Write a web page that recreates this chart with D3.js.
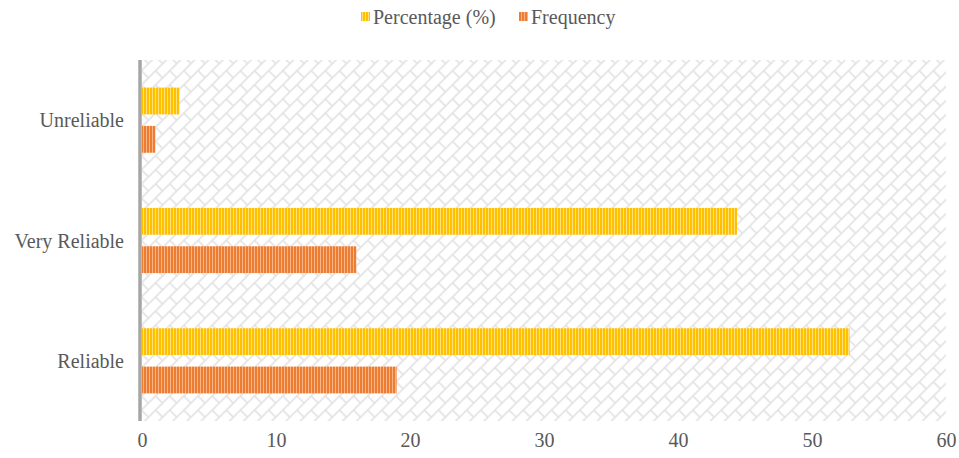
<!DOCTYPE html>
<html><head><meta charset="utf-8">
<script src="https://cdn.jsdelivr.net/npm/d3@7"></script>
<style>body{margin:0;background:#fff}svg{display:block}</style>
</head><body>
<script>
const categories = ["Unreliable", "Very Reliable", "Reliable"];
const seriesNames = ["Percentage (%)", "Frequency"];
const percentage = [2.8, 44.4, 52.8];
const frequency = [1, 16, 19];
const xTicks = [0, 10, 20, 30, 40, 50, 60];
const colors = ["#FFC000", "#ED7D31"];
const lightColors = ["#FFE07A", "#F7B48A"];

const W = 959, H = 458;
const m = {left: 142, right: 13, top: 60, bottom: 37};
const svg = d3.select("body").append("svg").attr("width", W).attr("height", H);
const defs = svg.append("defs");

// background diagonal brick pattern
const S = 20;
const bp = defs.append("pattern").attr("id", "brick").attr("patternUnits", "userSpaceOnUse")
  .attr("width", S).attr("height", S).attr("patternTransform", "rotate(-45)");
bp.append("rect").attr("width", S).attr("height", S).attr("fill", "#fff");
const bg = "#E2E2E2", bw = 1.6;
bp.append("line").attr("x1",0).attr("x2",S).attr("y1",0).attr("y2",0).attr("stroke",bg).attr("stroke-width",bw);
bp.append("line").attr("x1",0).attr("x2",S).attr("y1",S/2).attr("y2",S/2).attr("stroke",bg).attr("stroke-width",bw);
bp.append("line").attr("x1",0).attr("x2",S).attr("y1",S).attr("y2",S).attr("stroke",bg).attr("stroke-width",bw);
bp.append("line").attr("x1",0).attr("x2",0).attr("y1",0).attr("y2",S/2).attr("stroke",bg).attr("stroke-width",bw);
bp.append("line").attr("x1",S).attr("x2",S).attr("y1",0).attr("y2",S/2).attr("stroke",bg).attr("stroke-width",bw);
bp.append("line").attr("x1",S/2).attr("x2",S/2).attr("y1",S/2).attr("y2",S).attr("stroke",bg).attr("stroke-width",bw);

// bar stripe patterns
colors.forEach((c, i) => {
  const p = defs.append("pattern").attr("id", "stripe" + i).attr("patternUnits", "userSpaceOnUse")
    .attr("width", 3).attr("height", 10);
  p.append("rect").attr("width", 3).attr("height", 10).attr("fill", c);
  p.append("rect").attr("x", 2).attr("width", 1).attr("height", 10).attr("fill", lightColors[i]);
});

const x = d3.scaleLinear().domain([0, 60]).range([m.left, W - m.right]);
const y = d3.scaleBand().domain(categories).range([m.top, H - m.bottom]);
const inner = d3.scaleBand().domain(seriesNames).range([0, y.bandwidth()]).paddingInner(0.3).paddingOuter(0.72);

svg.append("rect").attr("x", m.left).attr("y", m.top).attr("width", x(60) - m.left)
  .attr("height", H - m.bottom - m.top).attr("fill", "url(#brick)");

const data = [percentage, frequency];
seriesNames.forEach((s, si) => {
  svg.append("g").selectAll("rect").data(categories).join("rect")
    .attr("x", x(0))
    .attr("y", c => y(c) + inner(s))
    .attr("width", (c, i) => x(data[si][i]) - x(0))
    .attr("height", inner.bandwidth())
    .attr("fill", "url(#stripe" + si + ")");
});

// left axis line
svg.append("line").attr("x1", x(0) - 2).attr("x2", x(0) - 2).attr("y1", m.top).attr("y2", H - m.bottom)
  .attr("stroke", "#A6A6A6").attr("stroke-width", 3.5);

const font = "'Liberation Serif','Times New Roman',serif";
// category labels
svg.append("g").selectAll("text").data(categories).join("text")
  .attr("x", 124).attr("y", c => y(c) + y.bandwidth() / 2 + 7)
  .attr("text-anchor", "end").attr("font-family", font).attr("font-size", 20).attr("fill", "#595959")
  .text(d => d);

// x axis
const xa = svg.append("g").attr("transform", `translate(0,${H - m.bottom})`)
  .call(d3.axisBottom(x).tickValues(xTicks).tickSize(0).tickPadding(12));
xa.select(".domain").remove();
xa.selectAll("text").attr("font-family", font).attr("font-size", 20).attr("fill", "#595959");

// legend
const leg = svg.append("g");
const legX = [361, 519];
seriesNames.forEach((s, i) => {
  leg.append("rect").attr("x", legX[i]).attr("y", 12).attr("width", 9).attr("height", 9).attr("fill", "url(#stripe" + i + ")");
  leg.append("text").attr("x", legX[i] + 12).attr("y", 24).attr("font-family", font).attr("font-size", 20)
    .attr("fill", "#595959").text(s);
});
</script>
</body></html>
